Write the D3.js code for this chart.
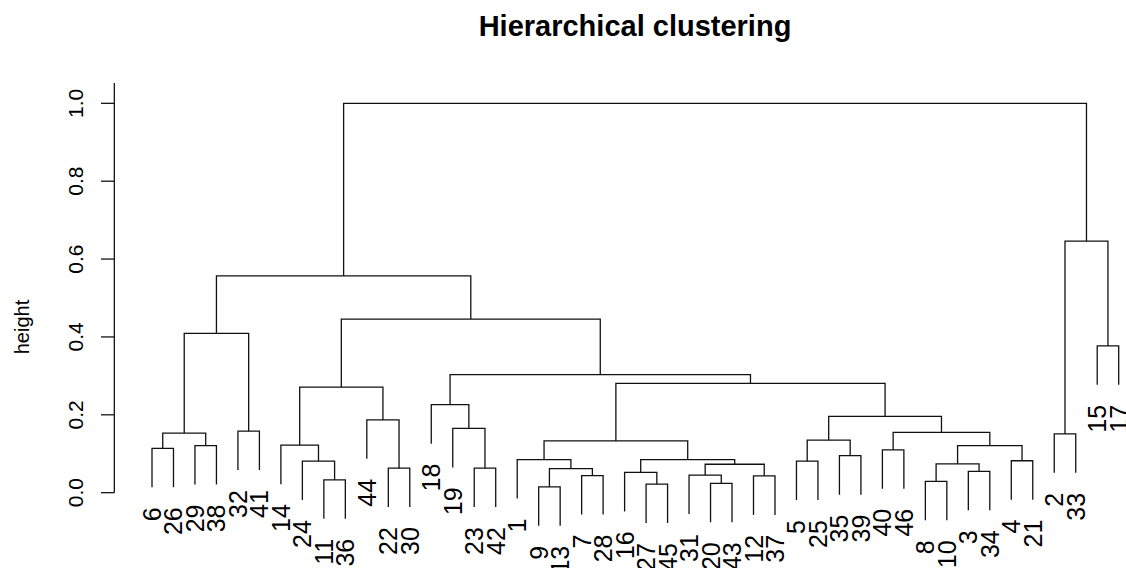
<!DOCTYPE html>
<html>
<head>
<meta charset="utf-8">
<script src="https://cdn.jsdelivr.net/npm/d3@7"></script>
<style>
  body { margin: 0; background: #fff; }
  svg { display: block; font-family: "Liberation Sans", Arial, Helvetica, sans-serif; }
</style>
</head>
<body>
<div id="chart"></div>
<script>
const title = 'Hierarchical clustering';
const yLabel = 'height';

// hclust style merge table: negative = observation id, positive = earlier merge step
const merges = [
  [-9, -13], [-27, -45], [-20, -43], [-8, -10], [-11, -36],
  [-12, -37], [-7, -28], [-31, 3], [-16, 2], [-3, -34],
  [1, 7], [-22, -30], [-23, -42], [8, 6], [4, 10],
  [-24, 5], [-5, -25], [-4, -21], [-1, 11], [9, 14],
  [-35, -39], [-40, -46], [-6, -26], [-29, -38], [15, 18],
  [-14, 16], [19, 20], [17, 21], [-2, -33], [23, 24],
  [22, 25], [-32, -41], [-19, 13], [-44, 12], [28, 31],
  [-18, 33], [26, 34], [27, 35], [36, 38], [-15, -17],
  [30, 32], [37, 39], [41, 42], [29, 40], [43, 44],
];
const heights = [
  0.015, 0.022, 0.024, 0.029, 0.033, 0.043, 0.044, 0.045, 0.052, 0.055,
  0.062, 0.063, 0.063, 0.073, 0.074, 0.081, 0.081, 0.082, 0.085, 0.085,
  0.095, 0.110, 0.114, 0.121, 0.121, 0.122, 0.133, 0.135, 0.151, 0.153,
  0.155, 0.158, 0.165, 0.187, 0.196, 0.226, 0.271, 0.281, 0.303, 0.377,
  0.409, 0.446, 0.557, 0.646, 1.000,
];
const yTicks = [0, 0.2, 0.4, 0.6, 0.8, 1.0];
const hang = 0.1;

const width = 1126;
const height = 568;

// build the tree from the merge table
const nodes = merges.map((m, i) => ({ h: heights[i], pair: m }));
const resolve = k => (k < 0 ? { leaf: true, id: -k } : nodes[k - 1]);
nodes.forEach((n) => { n.left = resolve(n.pair[0]); n.right = resolve(n.pair[1]); });
const root = nodes[nodes.length - 1];

// leaf order from left-first traversal
const order = [];
(function walk(n) {
  if (n.leaf) { order.push(n.id); return; }
  walk(n.left);
  walk(n.right);
}(root));

const x = d3.scalePoint().domain(order).range([152, 1118.7]);
const y = d3.scaleLinear().domain([0, 1]).range([492.7, 103.3]);

function posX(n) {
  if (n.leaf) return x(n.id);
  if (n.cx === undefined) n.cx = (posX(n.left) + posX(n.right)) / 2;
  return n.cx;
}

const svg = d3.select('#chart').append('svg')
  .attr('width', width)
  .attr('height', height);

svg.append('rect')
  .attr('width', width)
  .attr('height', height)
  .attr('fill', '#fff');

svg.append('text')
  .attr('x', 635)
  .attr('y', 36)
  .attr('text-anchor', 'middle')
  .style('font-size', '29px')
  .style('font-weight', 'bold')
  .text(title);

// y axis
const yAxis = svg.append('g');
yAxis.append('line')
  .attr('x1', 114.3).attr('x2', 114.3)
  .attr('y1', y(0)).attr('y2', 83)
  .attr('stroke', '#000')
  .attr('stroke-width', 1.2);

yAxis.selectAll('.tick')
  .data(yTicks)
  .enter()
  .append('line')
  .attr('x1', 101).attr('x2', 114.3)
  .attr('y1', d => y(d)).attr('y2', d => y(d))
  .attr('stroke', '#000')
  .attr('stroke-width', 1.2);

yAxis.selectAll('.tlabel')
  .data(yTicks)
  .enter()
  .append('text')
  .attr('transform', d => `translate(83, ${y(d)}) rotate(-90)`)
  .attr('text-anchor', 'middle')
  .style('font-size', '21px')
  .text(d => d.toFixed(1));

svg.append('text')
  .attr('transform', 'translate(29, 327) rotate(-90)')
  .attr('text-anchor', 'middle')
  .style('font-size', '20px')
  .text(yLabel);

// branches
const childTop = (c, parent) => (c.leaf ? parent.h - hang : c.h);

svg.append('g')
  .selectAll('path')
  .data(nodes)
  .enter()
  .append('path')
  .attr('fill', 'none')
  .attr('stroke', '#111')
  .attr('stroke-width', 1.3)
  .attr('d', n => `M${posX(n.left)},${y(childTop(n.left, n))}`
    + `V${y(n.h)}H${posX(n.right)}V${y(childTop(n.right, n))}`);

// leaf labels
const leaves = [];
nodes.forEach((n) => {
  [n.left, n.right].forEach((c) => {
    if (c.leaf) leaves.push({ id: c.id, bottom: n.h - hang });
  });
});

svg.append('g')
  .selectAll('text')
  .data(leaves)
  .enter()
  .append('text')
  .attr('transform', d => `translate(${x(d.id)}, ${y(d.bottom) + 20}) rotate(-90)`)
  .attr('text-anchor', 'end')
  .attr('dy', '0.36em')
  .style('font-size', '25px')
  .text(d => d.id);
</script>
</body>
</html>
